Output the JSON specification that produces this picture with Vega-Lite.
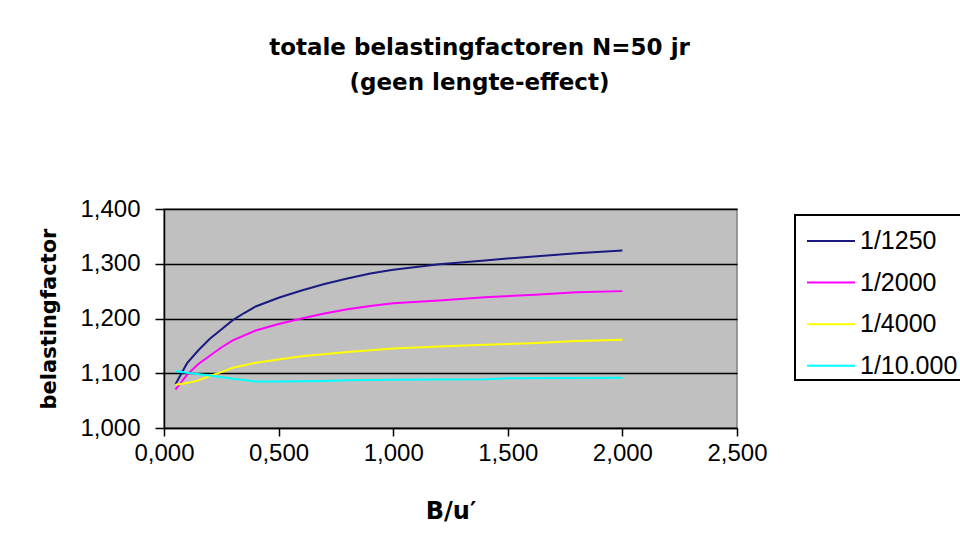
{
  "$schema": "https://vega.github.io/schema/vega-lite/v6.json",
  "width": 573,
  "height": 219,
  "autosize": {"type": "none"},
  "padding": {"left": 164, "top": 209, "right": 223, "bottom": 126},
  "background": "white",
  "title": {
    "text": ["totale belastingfactoren N=50 jr", "(geen lengte-effect)"],
    "font": "DejaVu Sans",
    "fontSize": 23,
    "fontWeight": "bold",
    "lineHeight": 35,
    "anchor": "middle",
    "frame": "group",
    "dx": 29,
    "offset": 84,
    "color": "black",
    "baseline": "alphabetic"
  },
  "data": {
    "values": [
      {"B": 0.05, "f": 1.080, "serie": "1/1250"},
      {"B": 0.10, "f": 1.118, "serie": "1/1250"},
      {"B": 0.15, "f": 1.142, "serie": "1/1250"},
      {"B": 0.20, "f": 1.163, "serie": "1/1250"},
      {"B": 0.25, "f": 1.180, "serie": "1/1250"},
      {"B": 0.30, "f": 1.197, "serie": "1/1250"},
      {"B": 0.35, "f": 1.210, "serie": "1/1250"},
      {"B": 0.40, "f": 1.222, "serie": "1/1250"},
      {"B": 0.50, "f": 1.238, "serie": "1/1250"},
      {"B": 0.60, "f": 1.251, "serie": "1/1250"},
      {"B": 0.70, "f": 1.263, "serie": "1/1250"},
      {"B": 0.80, "f": 1.273, "serie": "1/1250"},
      {"B": 0.90, "f": 1.282, "serie": "1/1250"},
      {"B": 1.00, "f": 1.289, "serie": "1/1250"},
      {"B": 1.20, "f": 1.299, "serie": "1/1250"},
      {"B": 1.40, "f": 1.306, "serie": "1/1250"},
      {"B": 1.60, "f": 1.313, "serie": "1/1250"},
      {"B": 1.80, "f": 1.319, "serie": "1/1250"},
      {"B": 2.00, "f": 1.324, "serie": "1/1250"},

      {"B": 0.05, "f": 1.070, "serie": "1/2000"},
      {"B": 0.10, "f": 1.097, "serie": "1/2000"},
      {"B": 0.15, "f": 1.117, "serie": "1/2000"},
      {"B": 0.20, "f": 1.132, "serie": "1/2000"},
      {"B": 0.25, "f": 1.147, "serie": "1/2000"},
      {"B": 0.30, "f": 1.160, "serie": "1/2000"},
      {"B": 0.40, "f": 1.178, "serie": "1/2000"},
      {"B": 0.50, "f": 1.190, "serie": "1/2000"},
      {"B": 0.60, "f": 1.200, "serie": "1/2000"},
      {"B": 0.70, "f": 1.209, "serie": "1/2000"},
      {"B": 0.80, "f": 1.217, "serie": "1/2000"},
      {"B": 0.90, "f": 1.223, "serie": "1/2000"},
      {"B": 1.00, "f": 1.228, "serie": "1/2000"},
      {"B": 1.20, "f": 1.233, "serie": "1/2000"},
      {"B": 1.40, "f": 1.239, "serie": "1/2000"},
      {"B": 1.60, "f": 1.243, "serie": "1/2000"},
      {"B": 1.80, "f": 1.248, "serie": "1/2000"},
      {"B": 2.00, "f": 1.250, "serie": "1/2000"},

      {"B": 0.05, "f": 1.079, "serie": "1/4000"},
      {"B": 0.10, "f": 1.082, "serie": "1/4000"},
      {"B": 0.15, "f": 1.087, "serie": "1/4000"},
      {"B": 0.20, "f": 1.095, "serie": "1/4000"},
      {"B": 0.25, "f": 1.102, "serie": "1/4000"},
      {"B": 0.30, "f": 1.110, "serie": "1/4000"},
      {"B": 0.40, "f": 1.119, "serie": "1/4000"},
      {"B": 0.50, "f": 1.125, "serie": "1/4000"},
      {"B": 0.60, "f": 1.131, "serie": "1/4000"},
      {"B": 0.80, "f": 1.139, "serie": "1/4000"},
      {"B": 1.00, "f": 1.145, "serie": "1/4000"},
      {"B": 1.20, "f": 1.149, "serie": "1/4000"},
      {"B": 1.40, "f": 1.152, "serie": "1/4000"},
      {"B": 1.60, "f": 1.155, "serie": "1/4000"},
      {"B": 1.80, "f": 1.159, "serie": "1/4000"},
      {"B": 2.00, "f": 1.161, "serie": "1/4000"},

      {"B": 0.05, "f": 1.104, "serie": "1/10.000"},
      {"B": 0.10, "f": 1.101, "serie": "1/10.000"},
      {"B": 0.20, "f": 1.096, "serie": "1/10.000"},
      {"B": 0.30, "f": 1.090, "serie": "1/10.000"},
      {"B": 0.40, "f": 1.085, "serie": "1/10.000"},
      {"B": 0.50, "f": 1.085, "serie": "1/10.000"},
      {"B": 0.70, "f": 1.086, "serie": "1/10.000"},
      {"B": 0.80, "f": 1.087, "serie": "1/10.000"},
      {"B": 1.00, "f": 1.088, "serie": "1/10.000"},
      {"B": 1.40, "f": 1.089, "serie": "1/10.000"},
      {"B": 1.50, "f": 1.091, "serie": "1/10.000"},
      {"B": 2.00, "f": 1.092, "serie": "1/10.000"}
    ]
  },
  "mark": {"type": "line", "strokeWidth": 2, "clip": true},
  "encoding": {
    "x": {
      "field": "B",
      "type": "quantitative",
      "scale": {"domain": [0, 2.5], "nice": false, "zero": false},
      "axis": {
        "title": "B/u′",
        "titleFont": "DejaVu Sans",
        "titleFontSize": 24,
        "titleFontWeight": "bold",
        "titleColor": "black",
        "titlePadding": 34,
        "values": [0, 0.5, 1, 1.5, 2, 2.5],
        "labelExpr": "replace(format(datum.value, '.3f'), '.', ',')",
        "labelFont": "Liberation Sans",
        "labelFontSize": 24,
        "labelColor": "black",
        "labelPadding": 5,
        "labelFlush": false,
        "labelOverlap": false,
        "tickColor": "black",
        "tickSize": 8,
        "tickWidth": 1.5,
        "domainColor": "black",
        "domainWidth": 1.5,
        "grid": false
      }
    },
    "y": {
      "field": "f",
      "type": "quantitative",
      "scale": {"domain": [1.0, 1.4], "nice": false, "zero": false},
      "axis": {
        "title": "belastingfactor",
        "titleFont": "DejaVu Sans",
        "titleFontSize": 21,
        "titleFontWeight": "bold",
        "titleColor": "black",
        "titlePadding": 20,
        "values": [1.0, 1.1, 1.2, 1.3, 1.4],
        "labelExpr": "replace(format(datum.value, '.3f'), '.', ',')",
        "labelFont": "Liberation Sans",
        "labelFontSize": 24,
        "labelColor": "black",
        "labelPadding": 15,
        "labelOverlap": false,
        "tickColor": "black",
        "tickSize": 9,
        "tickWidth": 1.5,
        "domainColor": "black",
        "domainWidth": 1.5,
        "grid": true,
        "gridColor": "black",
        "gridWidth": 1.5
      }
    },
    "color": {
      "field": "serie",
      "type": "nominal",
      "scale": {
        "domain": ["1/1250", "1/2000", "1/4000", "1/10.000"],
        "range": ["#1a1a80", "#ff00ff", "#ffff00", "#00ffff"]
      },
      "legend": {
        "title": null,
        "orient": "none",
        "legendX": 631,
        "legendY": 6,
        "direction": "vertical",
        "symbolType": "stroke",
        "symbolSize": 2304,
        "symbolStrokeWidth": 2,
        "symbolOffset": 10,
        "labelFont": "Liberation Sans",
        "labelFontSize": 25,
        "labelColor": "black",
        "labelOffset": 4,
        "labelExpr": "datum.label + '\u2800'",
        "labelLimit": 400,
        "rowPadding": 3.6,
        "padding": 1,
        "strokeColor": "black",
        "fillColor": "white",
        "encode": {"legend": {"update": {"strokeWidth": {"value": 2}}}}
      }
    }
  },
  "config": {
    "view": {"fill": "#C0C0C0", "stroke": "#808080", "strokeWidth": 1.5}
  }
}
